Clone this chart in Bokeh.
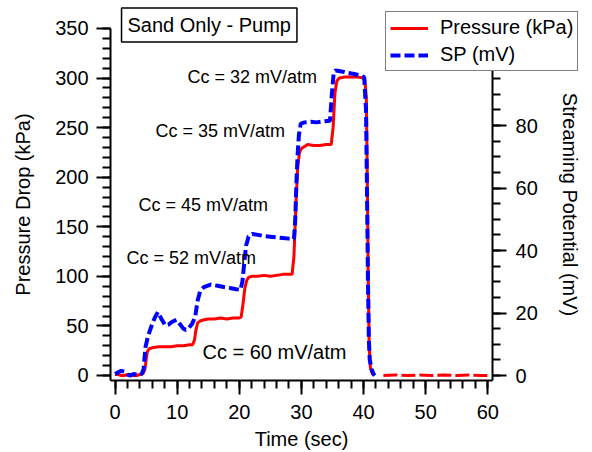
import math
from bokeh.plotting import figure
from bokeh.models import (Range1d, LinearAxis, SingleIntervalTicker, Legend,
                          LegendItem, Label)
from bokeh.embed import file_html
from bokeh.resources import INLINE

# ---------------- data ----------------
time_pressure = [0, 0.5, 1, 1.5, 2, 2.5, 3, 3.5, 4,
                 4.5, 4.8, 5.0, 5.2, 5.5, 6.0,
                 7, 8, 9, 10, 11, 12,
                 12.5, 12.8, 13.0, 13.3, 13.7, 14.2,
                 15, 16, 17, 18, 19, 20,
                 20.3, 20.6, 20.9, 21.2, 21.5, 22,
                 23, 24, 25, 26, 27, 28,
                 28.5, 28.8, 29.1, 29.4, 29.7, 30.0, 30.5,
                 31, 32, 33, 34,
                 34.8, 35.1, 35.4, 35.7, 36.1,
                 37, 38, 39, 40,
                 40.2, 40.45, 40.6, 40.75, 40.9, 41.1, 41.4, 41.7]
pressure_kpa = [1, 1, 0, 0, 1, 1, 0, 0, 1,
                2, 6, 15, 24, 27, 28,
                29, 29, 29, 30, 30, 31,
                31, 36, 45, 53, 55, 56,
                57, 57, 58, 57, 58, 58,
                59, 72, 88, 96, 99, 100,
                100, 101, 100, 101, 102, 102,
                102, 120, 170, 210, 225, 229, 231,
                233, 232, 232, 233,
                233, 250, 285, 297, 300,
                301, 301, 301, 300,
                299, 280, 200, 100, 30, 8, 2, 0]

time_pressure_tail = [43.2, 45, 47, 49, 51, 53, 55, 57, 59, 60]
pressure_tail = [0, 0.5, 0, 0.5, 0, 0.5, 0, 0.5, 0, 0]

time_sp = [0, 0.5, 1.0, 1.5, 2.0, 2.5, 3.0, 3.5, 4.0,
           4.3, 4.6, 4.9, 5.3, 5.9, 6.4, 6.9,
           7.5, 8.1, 8.6, 9.2, 9.9, 10.5, 11.0, 11.4, 11.9, 12.4, 12.9,
           13.3, 13.7, 14.3, 15.4, 16.5, 17.5, 18.5, 19.5, 20.2,
           20.5, 20.8, 21.1, 21.5, 22.1,
           23, 24, 25, 26, 27, 28,
           28.8, 29.0, 29.2, 29.4, 29.6, 29.9,
           30.5, 31.5, 32.5, 33.5, 34.6,
           34.9, 35.2, 35.5,
           36.5, 37.5, 38.5, 39.5,
           40.1, 40.4, 40.55, 40.7, 40.85, 41.0, 41.3, 41.6, 41.8]
sp_mv = [0.5, 1.0, 1.5, 1.2, 0.3, 0.0, 0.5, 0.2, 0.3,
         0.5, 2.0, 9.0, 12.5, 16.0, 18.5, 20.3,
         18.0, 16.0, 16.3, 17.2, 17.8, 16.3, 15.0, 14.6, 15.3, 16.5, 18.7,
         24.0, 27.0, 28.3, 29.1, 28.7, 28.3, 28.0, 27.6, 27.4,
         30.0, 36.0, 41.6, 44.5, 45.3,
         45.0, 44.6, 44.4, 44.2, 44.0, 43.8,
         43.7, 49.6, 62.0, 71.0, 77.0, 80.6,
         81.0, 81.2, 81.0, 81.3, 81.5,
         90.0, 97.0, 97.6,
         97.3, 96.8, 96.5, 96.0,
         95.5, 85.0, 60.0, 32.0, 12.0, 5.0, 2.0, 0.5, 0.0]

note_texts = ["Cc = 32 mV/atm", "Cc = 35 mV/atm", "Cc = 45 mV/atm",
              "Cc = 52 mV/atm", "Cc = 60 mV/atm"]
note_time = [11.67, 6.52, 3.78, 1.85, 14.08]
note_kpa = [300.6, 247.1, 171.5, 119.0, 24.2]
note_sizes = ["18px", "18px", "18px", "18px", "20px"]

title_text = "Sand Only - Pump"
x_label = "Time (sec)"
y_label = "Pressure Drop (kPa)"
y2_label = "Streaming Potential (mV)"
series_names = ["Pressure (kPa)", "SP (mV)"]

# axis extents (data units) of the boxed plot area
T_MIN, T_MAX = -0.72, 60.76
P_MIN, P_MAX = -5.04, 350.0
S_MIN, S_VIS = -1.6, 98.0

# ---------------- figure ----------------
FONT = "Liberation Sans"
FS = "20px"

p = figure(width=592, height=452, title=None,
           x_range=Range1d(-18.43, 76.85), y_range=Range1d(-77.67, 378.24),
           output_backend="svg", toolbar_location=None,
           min_border=0, min_border_left=0, min_border_right=0,
           min_border_top=0, min_border_bottom=0)
p.extra_y_ranges = {"sp": Range1d(-24.64, 120.0)}
p.outline_line_color = None
p.xgrid.visible = False
p.ygrid.visible = False
p.background_fill_color = "white"
p.border_fill_color = "white"

xax = p.xaxis[0]
yax = p.yaxis[0]
right_axis = LinearAxis(y_range_name="sp")
p.add_layout(right_axis, "right")

xax.fixed_location = P_MIN
xax.bounds = (T_MIN, T_MAX)
yax.fixed_location = T_MIN
yax.bounds = (P_MIN, P_MAX + 0.01)
right_axis.fixed_location = T_MAX
right_axis.bounds = (S_MIN, S_VIS)

xax.ticker = SingleIntervalTicker(interval=10, num_minor_ticks=5)
yax.ticker = SingleIntervalTicker(interval=50, num_minor_ticks=5)
right_axis.ticker = SingleIntervalTicker(interval=20, num_minor_ticks=4)

for ax in [xax, yax, right_axis]:
    ax.axis_line_color = "black"
    ax.axis_line_width = 2
    ax.major_tick_line_color = "black"
    ax.major_tick_line_width = 2
    ax.minor_tick_line_color = "black"
    ax.minor_tick_line_width = 2
    ax.major_tick_in = 0
    ax.major_tick_out = 14
    ax.minor_tick_in = 0
    ax.minor_tick_out = 8
    ax.major_label_text_font = FONT
    ax.major_label_text_font_size = FS
    ax.major_label_text_color = "black"

xax.major_label_standoff = 11
yax.major_label_standoff = 8
right_axis.major_label_standoff = 9

# ---------------- data lines ----------------
r_p = p.line(time_pressure, pressure_kpa, line_color="#ff0000", line_width=3)
p.line(time_pressure_tail, pressure_tail, line_color="#ff0000", line_width=3,
       line_dash="14 4")
r_sp = p.line(time_sp, sp_mv, line_color="#0000ff", line_width=4,
              line_dash="10 4", y_range_name="sp")

legend = Legend(items=[LegendItem(label=series_names[0], renderers=[r_p]),
                       LegendItem(label=series_names[1], renderers=[r_sp])],
                location=(385, 381), orientation="vertical",
                label_text_font=FONT, label_text_font_size=FS,
                label_text_color="black",
                glyph_width=38, glyph_height=20, label_standoff=12,
                padding=4, spacing=4, margin=0,
                border_line_color="black", border_line_width=1.5,
                background_fill_color="white", background_fill_alpha=1.0)
p.add_layout(legend)

# ---------------- annotations ----------------
p.add_layout(Label(x=1.05, y=353.5, text=title_text, text_align="left",
                   text_baseline="middle", text_font=FONT, text_font_size=FS,
                   text_color="black",
                   padding=6, border_line_color="black", border_line_width=1.5,
                   background_fill_color="white"))

for txt, tx, ty, fs in zip(note_texts, note_time, note_kpa, note_sizes):
    p.add_layout(Label(x=tx, y=ty, text=txt, text_align="left",
                       text_baseline="middle", text_font=FONT,
                       text_font_size=fs, text_color="black"))

# axis titles
p.add_layout(Label(x=(T_MIN + T_MAX) / 2, y=-64.5, text=x_label,
                   text_align="center", text_baseline="middle",
                   text_font=FONT, text_font_size=FS, text_color="black"))
p.add_layout(Label(x=-14.8, y=(P_MIN + P_MAX) / 2, text=y_label,
                   angle=math.pi / 2, text_align="center",
                   text_baseline="middle", text_font=FONT, text_font_size=FS,
                   text_color="black"))
p.add_layout(Label(x=73.26, y=(P_MIN + P_MAX) / 2, text=y2_label,
                   angle=-math.pi / 2, text_align="center",
                   text_baseline="middle", text_font=FONT, text_font_size=FS,
                   text_color="black"))

open("out.html", "w").write(file_html(p, INLINE))
